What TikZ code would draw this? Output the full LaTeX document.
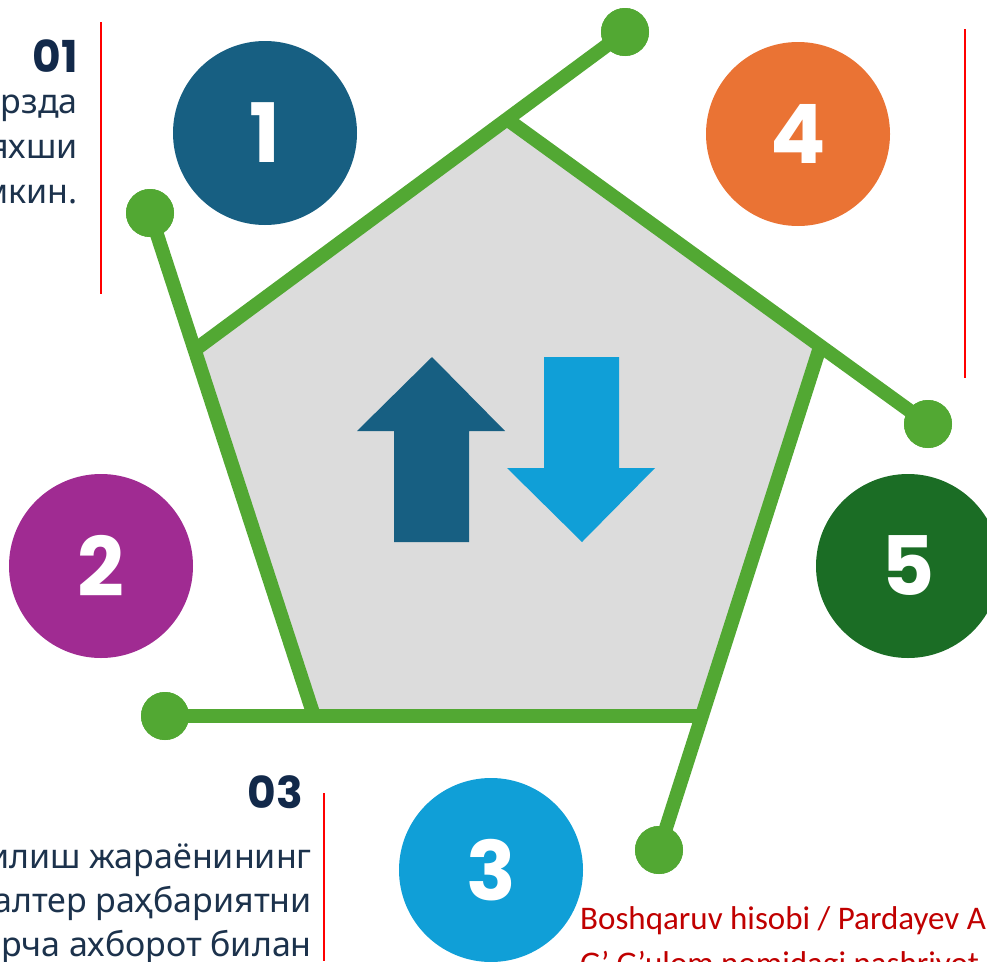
\documentclass[tikz,border=0pt]{standalone}
\usepackage{fontspec}
\setmainfont{Noto Sans}
\newfontfamily\numfont{Poppins}
\newfontfamily\reffont{Carlito}

\definecolor{linegreen}{HTML}{52A833}
\definecolor{panelgray}{HTML}{DCDCDC}
\definecolor{cone}{HTML}{175F82}
\definecolor{ctwo}{HTML}{A02B92}
\definecolor{cthree}{HTML}{109FD7}
\definecolor{cfour}{HTML}{EA7334}
\definecolor{cfive}{HTML}{1B6D25}
\definecolor{headnavy}{HTML}{12294A}
\definecolor{textnavy}{HTML}{1C324C}
\definecolor{refred}{HTML}{C00000}

\begin{document}
\begin{tikzpicture}[x=1pt, y=-1pt,
  greenline/.style={draw=linegreen, line width=14pt},
  dot/.style={circle, fill=linegreen, minimum size=48pt, inner sep=0pt},
  numcircle/.style={circle, minimum size=184pt, inner sep=0pt, text=white,
    font=\numfont\bfseries\fontsize{82}{82}\selectfont},
  numlabel/.style={anchor=base east, inner sep=0pt, text=headnavy,
    font=\numfont\bfseries\fontsize{44}{44}\selectfont},
  bodytext/.style={anchor=base east, inner sep=0pt, text=textnavy,
    font=\fontsize{34}{45}\selectfont},
  reftext/.style={anchor=base west, inner sep=0pt, text=refred,
    font=\reffont\fontsize{33}{45}\selectfont},
  redrule/.style={draw=red, line width=2pt}]
\useasboundingbox (0,0) rectangle (987,961);
\clip (0,0) rectangle (987,961);

% Pentagon corners
\coordinate (T) at (508,120);
\coordinate (R) at (820,347);
\coordinate (BR) at (701,716);
\coordinate (BL) at (314,716);
\coordinate (L) at (196,349);

% Ends of the sides
\node[dot] (dotA) at (625,32) {};
\node[dot] (dotB) at (928,424) {};
\node[dot] (dotC) at (659,850) {};
\node[dot] (dotD) at (165,716) {};
\node[dot] (dotE) at (150,213) {};

% Panel and sides
\fill[panelgray] (T) -- (R) -- (BR) -- (BL) -- (L) -- cycle;
\draw[greenline] (L) -- (dotA.center);
\draw[greenline] (T) -- (dotB.center);
\draw[greenline] (R) -- (dotC.center);
\draw[greenline] (BR) -- (dotD.center);
\draw[greenline] (BL) -- (dotE.center);
\foreach \d in {dotA,dotB,dotC,dotD,dotE}
  \fill[linegreen] (\d) circle (24pt);

% Up and down arrows
\fill[cone] (432,357) -- (505,431) -- (469,431) -- (469,542) -- (394,542)
  -- (394,431) -- (357,431) -- cycle;
\fill[cthree] (544,357) -- (619,357) -- (619,468) -- (655,468) -- (582,542)
  -- (507,468) -- (544,468) -- cycle;

% Numbered circles
\node[numcircle, fill=cone] (n1) at (265,133) {1};
\node[numcircle, fill=ctwo] (n2) at (101,566) {2};
\node[numcircle, fill=cthree] (n3) at (491,870) {3};
\node[numcircle, fill=cfour] (n4) at (798,134) {4};
\node[numcircle, fill=cfive] (n5) at (908,566) {5};

% Side rules
\draw[redrule] (101,22) -- (101,294);
\draw[redrule] (965,29) -- (965,378);
\draw[redrule] (324,793) -- (324,961);

% Texts
\node[numlabel] (h1) at (78,72) {01};
\node[bodytext] (t1a) at (78,113) {рзда};
\node[bodytext] (t1b) at (78,158) {яхши};
\node[bodytext] (t1c) at (78,203) {мкин.};
\node[numlabel, anchor=base west] (h4) at (985,50) {04};
\node[numlabel] (h3) at (303,808) {03};
\node[bodytext] (t3a) at (312,868) {илиш жараёнининг};
\node[bodytext] (t3b) at (312,912) {алтер раҳбариятни};
\node[bodytext] (t3c) at (312,956) {рча ахборот билан};
\node[reftext] (src1) at (580,929) {Boshqaruv hisobi / Pardayev A};
\node[reftext] (src2) at (580,974) {G’ G’ulom nomidagi nashriyot};
\end{tikzpicture}
\end{document}
